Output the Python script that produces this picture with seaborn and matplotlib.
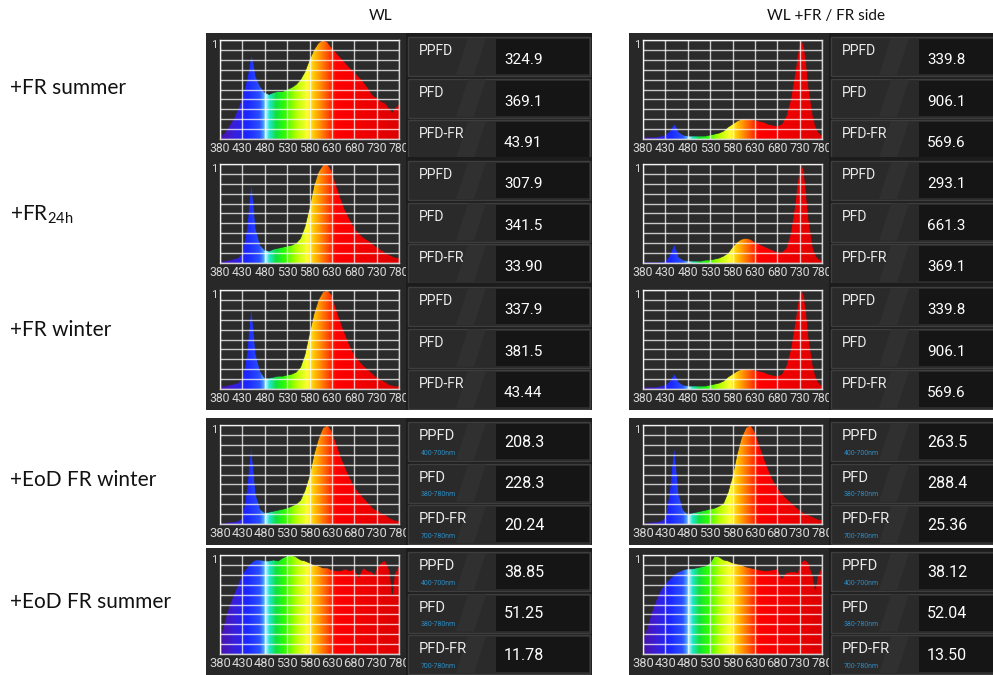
import numpy as np
import matplotlib
matplotlib.use("Agg")
import matplotlib.pyplot as plt
import seaborn as sns
from matplotlib.colors import LinearSegmentedColormap
from matplotlib.patches import Rectangle, Polygon

sns.set_theme(style="white")
plt.rcParams['font.family'] = ['Roboto', 'DejaVu Sans']
plt.rcParams['mathtext.fontset'] = 'custom'
plt.rcParams['mathtext.rm'] = 'Lato'

# ---------------- data ----------------
wavelengths = [380, 390, 400, 410, 420, 430, 440, 445, 450, 455,
               460, 470, 480, 490, 500, 510, 520, 530, 540, 550,
               560, 570, 580, 590, 600, 610, 620, 630, 640, 650,
               660, 670, 680, 690, 700, 710, 720, 725, 730, 735,
               740, 745, 750, 760, 765, 770, 780]

wl_fr_summer = [0.03, 0.06, 0.13, 0.20, 0.30, 0.43, 0.60, 0.72, 0.85, 0.77,
                0.63, 0.53, 0.47, 0.45, 0.47, 0.48, 0.48, 0.50, 0.52, 0.55,
                0.60, 0.68, 0.80, 0.90, 0.97, 1.00, 0.98, 0.92, 0.87, 0.82,
                0.77, 0.72, 0.68, 0.63, 0.58, 0.52, 0.45, 0.43, 0.42, 0.40,
                0.38, 0.37, 0.36, 0.30, 0.27, 0.31, 0.35]

fr_side_summer = [0.02, 0.02, 0.02, 0.02, 0.03, 0.04, 0.08, 0.12, 0.15, 0.12,
                  0.07, 0.04, 0.03, 0.03, 0.03, 0.03, 0.03, 0.04, 0.05, 0.06,
                  0.08, 0.12, 0.15, 0.18, 0.20, 0.20, 0.20, 0.19, 0.18, 0.17,
                  0.15, 0.14, 0.13, 0.15, 0.23, 0.40, 0.67, 0.83, 0.97, 1.00,
                  0.93, 0.77, 0.53, 0.23, 0.14, 0.08, 0.03]

wl_fr_24h = [0.02, 0.02, 0.03, 0.04, 0.05, 0.10, 0.35, 0.60, 0.82, 0.60,
             0.35, 0.18, 0.13, 0.12, 0.14, 0.15, 0.16, 0.17, 0.18, 0.20,
             0.25, 0.37, 0.56, 0.78, 0.92, 0.99, 1.00, 0.93, 0.78, 0.65,
             0.53, 0.44, 0.36, 0.30, 0.26, 0.23, 0.20, 0.18, 0.16, 0.15,
             0.13, 0.12, 0.10, 0.08, 0.07, 0.06, 0.05]

fr_side_24h = [0.01, 0.01, 0.01, 0.01, 0.01, 0.02, 0.08, 0.14, 0.19, 0.13,
               0.06, 0.03, 0.02, 0.02, 0.02, 0.02, 0.03, 0.03, 0.04, 0.05,
               0.07, 0.10, 0.16, 0.21, 0.24, 0.25, 0.24, 0.21, 0.19, 0.17,
               0.15, 0.13, 0.11, 0.11, 0.15, 0.30, 0.60, 0.80, 0.95, 1.00,
               0.92, 0.70, 0.45, 0.15, 0.09, 0.05, 0.02]

wl_fr_winter = [0.03, 0.03, 0.04, 0.05, 0.06, 0.10, 0.35, 0.62, 0.83, 0.60,
                0.35, 0.18, 0.11, 0.11, 0.12, 0.13, 0.13, 0.14, 0.15, 0.17,
                0.22, 0.35, 0.56, 0.76, 0.90, 0.98, 1.00, 0.95, 0.80, 0.67,
                0.55, 0.44, 0.35, 0.29, 0.24, 0.20, 0.16, 0.14, 0.12, 0.11,
                0.09, 0.08, 0.07, 0.04, 0.04, 0.03, 0.03]

fr_side_winter = fr_side_summer

wl_eod_winter = [0.01, 0.01, 0.02, 0.02, 0.03, 0.06, 0.35, 0.60, 0.79, 0.55,
                 0.30, 0.15, 0.11, 0.12, 0.13, 0.14, 0.15, 0.16, 0.18, 0.20,
                 0.24, 0.34, 0.49, 0.70, 0.86, 0.97, 1.00, 0.94, 0.81, 0.68,
                 0.57, 0.47, 0.38, 0.32, 0.27, 0.22, 0.17, 0.15, 0.14, 0.13,
                 0.11, 0.10, 0.09, 0.06, 0.05, 0.04, 0.03]

fr_side_eod_winter = [0.01, 0.01, 0.02, 0.02, 0.03, 0.06, 0.35, 0.60, 0.79, 0.55,
                      0.30, 0.14, 0.10, 0.11, 0.12, 0.13, 0.14, 0.15, 0.16, 0.18,
                      0.21, 0.32, 0.48, 0.70, 0.87, 0.97, 1.00, 0.93, 0.80, 0.67,
                      0.55, 0.45, 0.37, 0.31, 0.26, 0.22, 0.18, 0.16, 0.14, 0.13,
                      0.11, 0.10, 0.09, 0.07, 0.06, 0.05, 0.04]

wl_eod_summer = [0.16, 0.32, 0.48, 0.59, 0.70, 0.81, 0.87, 0.90, 0.92, 0.94,
                 0.95, 0.95, 0.94, 0.94, 0.95, 0.94, 0.97, 0.99, 1.00, 0.98,
                 0.95, 0.94, 0.92, 0.90, 0.89, 0.87, 0.87, 0.85, 0.84, 0.84,
                 0.86, 0.84, 0.86, 0.78, 0.87, 0.84, 0.83, 0.80, 0.86, 0.90,
                 0.92, 0.94, 0.94, 0.83, 0.60, 0.81, 0.89]

fr_side_eod_summer = [0.14, 0.28, 0.43, 0.55, 0.65, 0.71, 0.76, 0.78, 0.80, 0.82,
                      0.83, 0.85, 0.86, 0.86, 0.87, 0.88, 0.89, 0.92, 0.99, 0.98,
                      0.95, 0.94, 0.92, 0.91, 0.90, 0.88, 0.87, 0.86, 0.85, 0.84,
                      0.84, 0.85, 0.86, 0.76, 0.82, 0.83, 0.83, 0.82, 0.88, 0.93,
                      0.95, 0.94, 0.92, 0.78, 0.65, 0.78, 0.89]

row_labels = ["+FR summer", r"+FR$_{\mathrm{24h}}$", "+FR winter",
              "+EoD FR winter", "+EoD FR summer"]
column_titles = ["WL", "WL +FR / FR side"]
tick_wavelengths = [380, 430, 480, 530, 580, 630, 680, 730, 780]
metric_names = ["PPFD", "PFD", "PFD-FR"]
metric_ranges = ["400-700nm", "380-780nm", "700-780nm"]

spectra_wl = [wl_fr_summer, wl_fr_24h, wl_fr_winter, wl_eod_winter, wl_eod_summer]
spectra_fr = [fr_side_summer, fr_side_24h, fr_side_winter, fr_side_eod_winter,
              fr_side_eod_summer]

ppfd_wl = [324.9, 307.9, 337.9, 208.3, 38.85]
pfd_wl = [369.1, 341.5, 381.5, 228.3, 51.25]
pfd_fr_wl = [43.91, 33.90, 43.44, 20.24, 11.78]
ppfd_fr = [339.8, 293.1, 339.8, 263.5, 38.12]
pfd_fr = [906.1, 661.3, 906.1, 288.4, 52.04]
pfd_fr_fr = [569.6, 369.1, 569.6, 25.36, 13.50]

# ---------------- styling ----------------
W, H = 993, 675
fig = plt.figure(figsize=(W / 100, H / 100), dpi=100)
fig.patch.set_facecolor("white")

color_stops = [(380, "#4a12a8"), (410, "#3a1ed8"), (440, "#1a26ff"),
               (468, "#2a50ff"), (477, "#4a9cff"), (483, "#a4f2ff"),
               (490, "#20e6cc"), (505, "#10e040"), (525, "#2cff00"),
               (550, "#b4ff00"), (575, "#ffff30"), (592, "#ffc000"),
               (610, "#ff7800"), (628, "#ff3000"), (640, "#ff0000"),
               (780, "#dc0000")]
spectrum_cmap = LinearSegmentedColormap.from_list(
    "spectrum", [((w - 380) / 400, c) for w, c in color_stops])


def px_axes(x, y, w, h):
    return fig.add_axes([x / W, 1 - (y + h) / H, w / W, h / H])


def blank(ax, color):
    ax.set_facecolor(color)
    ax.set_xticks([])
    ax.set_yticks([])
    for sp in ax.spines.values():
        sp.set_visible(False)


def draw_spectrum(x0, y0, values, tick_size):
    bg = px_axes(x0, y0, 200, 127)
    blank(bg, "#282828")
    ax = px_axes(x0 + 14, y0 + 7, 179, 99)
    ax.set_facecolor("#2b2b2b")
    ax.set_xlim(380, 780)
    ax.set_ylim(0, 1)
    grad = np.linspace(380, 780, 800)[None, :]
    im = ax.imshow(grad, extent=[380, 780, 0, 1], aspect="auto",
                   cmap=spectrum_cmap, vmin=380, vmax=780, zorder=1,
                   interpolation="bilinear")
    verts = [(380, 0)] + list(zip(wavelengths, values)) + [(780, 0)]
    clip = Polygon(verts, closed=True, transform=ax.transData)
    im.set_clip_path(clip)
    sns.lineplot(x=wavelengths, y=values, ax=ax, color="#2b2b2b",
                 linewidth=0.5, zorder=1.5)
    ax.set_xlabel("")
    ax.set_ylabel("")
    ax.set_xticks(tick_wavelengths)
    ax.set_xticklabels([str(t) for t in tick_wavelengths])
    ax.set_yticks([1])
    ax.set_yticklabels(["1"])
    ax.set_yticks(np.arange(0, 1.0, 0.1), minor=True)
    ax.grid(which="both", color="white", alpha=0.75, linewidth=1.0)
    ax.set_axisbelow(False)
    ax.tick_params(axis="x", length=0, colors="#d8d8d8", labelsize=tick_size,
                   pad=2)
    ax.tick_params(axis="y", which="both", length=0, colors="#d8d8d8",
                   labelsize=8, pad=2)
    for lab in ax.get_yticklabels():
        lab.set_verticalalignment("top")
    for sp in ax.spines.values():
        sp.set_color("#d0d0d0")
        sp.set_linewidth(1.0)


def draw_table(x0, y0, w, vals, with_range):
    tab = px_axes(x0, y0, w, 127)
    blank(tab, "#1c1c1c")
    tab.set_xlim(0, w)
    tab.set_ylim(127, 0)
    row_h = 39
    for i, (name, v) in enumerate(zip(metric_names, vals)):
        top = 4 + i * 41.5
        tab.add_patch(Rectangle((2, top), w - 4, row_h, facecolor="#2a2a2a",
                                edgecolor="#3e3e3e", linewidth=1))
        tab.add_patch(Polygon([(62, top + 1), (80, top + 1), (68, top + row_h - 1),
                               (50, top + row_h - 1)], closed=True,
                              facecolor="#303030", edgecolor="none"))
        tab.add_patch(Rectangle((90, top + 2), w - 93, row_h - 4,
                                facecolor="#151515", edgecolor="none"))
        label = "{:#.4g}".format(v)
        if with_range:
            tab.text(13, top + row_h * 0.36, name, color="#ececec", fontsize=10.5,
                     va="center", ha="left")
            tab.text(15, top + row_h * 0.8, metric_ranges[i], color="#2a8cc4",
                     fontsize=5, va="center", ha="left")
            tab.text(98, top + row_h * 0.52, label, color="white",
                     fontsize=11.5, va="center", ha="left")
        else:
            tab.text(13, top + row_h * 0.36, name, color="#ececec", fontsize=10,
                     va="center", ha="left")
            tab.text(98, top + row_h * 0.6, label, color="white",
                     fontsize=11, va="center", ha="left")


row_tops = [33, 157, 283, 418, 548]
label_y = [88, 215, 330, 480, 602]
left_x, right_x = 206, 629

for r in range(5):
    tick_size = 8.8 if r < 3 else 9.3
    ranges = r >= 3
    draw_spectrum(left_x, row_tops[r], spectra_wl[r], tick_size)
    draw_table(left_x + 200, row_tops[r], 186,
               [ppfd_wl[r], pfd_wl[r], pfd_fr_wl[r]], ranges)
    draw_spectrum(right_x, row_tops[r], spectra_fr[r], tick_size)
    draw_table(right_x + 200, row_tops[r], 180,
               [ppfd_fr[r], pfd_fr[r], pfd_fr_fr[r]], ranges)
    fig.text(10 / W, 1 - label_y[r] / H, row_labels[r], fontsize=15,
             family=["Lato", "DejaVu Sans"], color="#111111", va="center",
             ha="left")

fig.text(381 / W, 1 - 16 / H, column_titles[0], fontsize=11,
         family=["Lato", "DejaVu Sans"], color="#111111", va="center", ha="center")
fig.text(826 / W, 1 - 16 / H, column_titles[1], fontsize=11,
         family=["Lato", "DejaVu Sans"], color="#111111", va="center", ha="center")

fig.savefig("out.png", dpi=100, facecolor="white")
